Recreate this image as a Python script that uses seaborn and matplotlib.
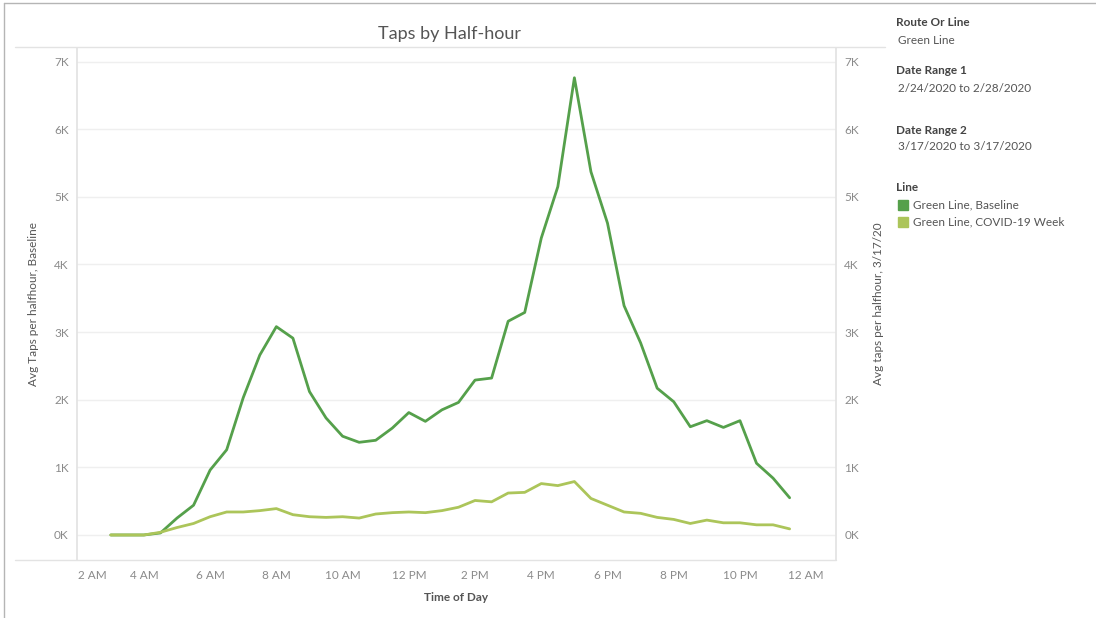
import matplotlib
matplotlib.use("Agg")
import matplotlib.pyplot as plt
import seaborn as sns
import pandas as pd
import numpy as np
from matplotlib.lines import Line2D
from matplotlib.patches import Rectangle

# ---- data (half-hour slots, 3:00 AM .. 11:30 PM) ----
hours = [3.0, 3.5, 4.0, 4.5, 5.0, 5.5, 6.0, 6.5, 7.0, 7.5, 8.0, 8.5, 9.0, 9.5,
         10.0, 10.5, 11.0, 11.5, 12.0, 12.5, 13.0, 13.5, 14.0, 14.5, 15.0, 15.5,
         16.0, 16.5, 17.0, 17.5, 18.0, 18.5, 19.0, 19.5, 20.0, 20.5, 21.0, 21.5,
         22.0, 22.5, 23.0, 23.5]
baseline = [0, 0, 0, 30, 250, 440, 960, 1260, 2030, 2660, 3080, 2910, 2120, 1730,
            1460, 1370, 1400, 1580, 1810, 1680, 1850, 1960, 2290, 2320, 3160, 3290,
            4390, 5150, 6760, 5370, 4610, 3390, 2840, 2170, 1970, 1600, 1690, 1590,
            1690, 1060, 840, 550]
covid = [0, 0, 0, 40, 110, 170, 270, 340, 340, 360, 390, 300, 270, 260,
         270, 250, 310, 330, 340, 330, 360, 410, 510, 490, 620, 630,
         760, 730, 790, 540, 440, 340, 320, 260, 230, 170, 220, 180,
         180, 150, 150, 90]
tick_hours = [2, 4, 6, 8, 10, 12, 14, 16, 18, 20, 22, 24]
tick_labels = ["2 AM", "4 AM", "6 AM", "8 AM", "10 AM", "12 PM", "2 PM", "4 PM",
               "6 PM", "8 PM", "10 PM", "12 AM"]
y_ticks = [0, 1000, 2000, 3000, 4000, 5000, 6000, 7000]
y_labels = ["0K", "1K", "2K", "3K", "4K", "5K", "6K", "7K"]
series_names = ["Green Line, Baseline", "Green Line, COVID-19 Week"]
colors = ["#55a04b", "#acc55a"]

df_base = pd.DataFrame({"hour": hours, "taps": baseline, "Line": series_names[0]})
df_cov = pd.DataFrame({"hour": hours, "taps": covid, "Line": series_names[1]})

sns.set_theme(style="white")
plt.rcParams["font.family"] = ["Lato", "DejaVu Sans"]

W, H = 1096, 618
fig = plt.figure(figsize=(W / 100, H / 100), dpi=100)
ax = fig.add_axes([77 / W, 1 - 560 / H, (836 - 77) / W, (560 - 48) / H])
ax2 = ax.twinx()

sns.lineplot(data=df_base, x="hour", y="taps", ax=ax, color=colors[0], linewidth=2.0, legend=False)
sns.lineplot(data=df_cov, x="hour", y="taps", ax=ax2, color=colors[1], linewidth=2.0, legend=False)

ylim = (-370, 7200)
for a in (ax, ax2):
    a.set_ylim(*ylim)
    a.set_xlim(1.98, 24.9)
    a.set_yticks(y_ticks)
    a.set_yticklabels(y_labels)
    a.tick_params(axis="y", length=0, labelsize=8.5, labelcolor="#8a8a8a", pad=6)
    for s in a.spines.values():
        s.set_visible(False)

ax.grid(axis="y", color="#efefef", linewidth=1)
ax.grid(axis="x", visible=False)
ax2.grid(False)
ax.spines["left"].set_visible(True)
ax.spines["left"].set_color("#e3e3e3")
ax2.spines["right"].set_visible(True)
ax2.spines["right"].set_color("#e3e3e3")

ax.set_xticks(tick_hours)
ax.set_xticklabels(tick_labels)
ax.tick_params(axis="x", length=0, labelsize=8.5, labelcolor="#8a8a8a", pad=7)
xl = ax.get_xticklabels()
xl[0].set_horizontalalignment("left")

ax.set_xlabel("Time of Day", fontsize=8.5, color="#555555", fontweight="bold", labelpad=8)
ax.set_ylabel("Avg Taps per halfhour, Baseline", fontsize=8.5, color="#555555", labelpad=11)
ax2.set_ylabel("Avg taps per halfhour, 3/17/20", fontsize=8.5, color="#555555", labelpad=10)

# title
fig.text(450 / W, 1 - 34 / H, "Taps by Half-hour", ha="center", va="center",
         fontsize=13, color="#555555")

# separator lines and frame
fig.add_artist(Line2D([15 / W, 885 / W], [1 - 47 / H, 1 - 47 / H], color="#e3e3e3", lw=1))
fig.add_artist(Line2D([15 / W, 836 / W], [1 - 560 / H, 1 - 560 / H], color="#e3e3e3", lw=1))
fig.add_artist(Line2D([4 / W, 4 / W], [0, 1 - 3 / H], color="#b5b5b5", lw=1))
fig.add_artist(Line2D([4 / W, 1 - 0.5 / W], [1 - 3 / H, 1 - 3 / H], color="#b5b5b5", lw=1))

# right-side panel
px = 896 / W
def t(y, s, bold=False, x=px):
    fig.text(x, 1 - y / H, s, ha="left", va="center", fontsize=8.5,
             color="#444444" if bold else "#555555",
             fontweight="bold" if bold else "normal")

t(22, "Route Or Line", bold=True)
t(40, "Green Line", x=898 / W)
t(71, "Date Range 1", bold=True)
t(88, "2/24/2020 to 2/28/2020", x=898 / W)
t(130, "Date Range 2", bold=True)
t(147, "3/17/2020 to 3/17/2020", x=898 / W)
t(188, "Line", bold=True)
for i, (name, c) in enumerate(zip(series_names, colors)):
    yy = 205 + i * 17
    fig.add_artist(Rectangle((898 / W, 1 - (yy + 5) / H), 10 / W, 10 / H,
                             color=c, transform=fig.transFigure))
    t(yy, name, x=913 / W)

fig.savefig("out.png", dpi=100)
